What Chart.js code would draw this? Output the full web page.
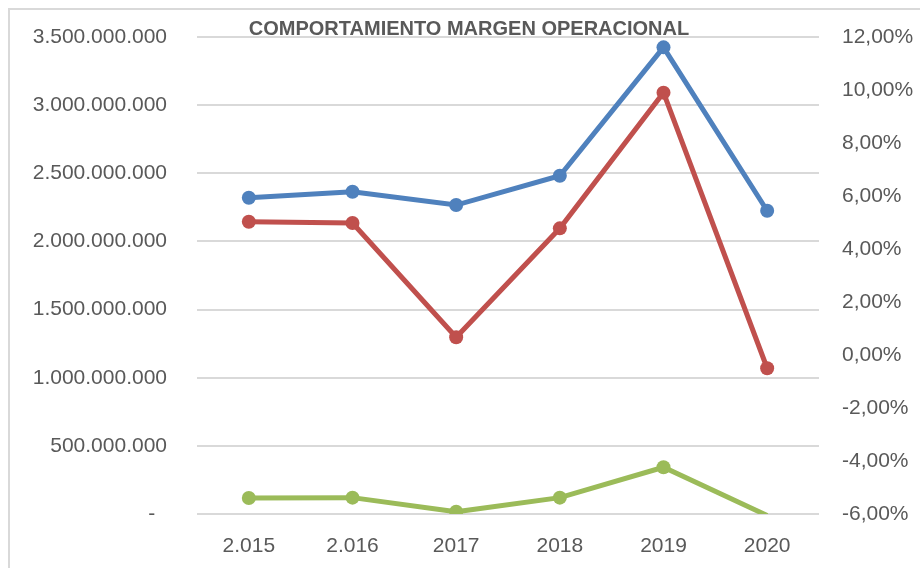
<!DOCTYPE html>
<html>
<head>
<meta charset="utf-8">
<script src="https://cdn.jsdelivr.net/npm/chart.js@4.4.1/dist/chart.umd.min.js"></script>
<style>
  body { margin: 0; background: #fff; overflow: hidden; }
  #wrap { position: relative; width: 920px; height: 568px; }
  #frame {
    position: absolute; left: 8px; top: 8px; width: 940px; height: 600px;
    border-left: 2px solid #d9d9d9; border-top: 2px solid #d9d9d9;
  }
  canvas { position: absolute; left: 0; top: 0; }
</style>
</head>
<body>
<div id="wrap">
  <div id="frame"></div>
  <canvas id="chartJS" width="920" height="568"></canvas>
</div>
<script>
// Data
const years = ['2.015', '2.016', '2017', '2018', '2019', '2020'];
const ingresos = [2321000000, 2365000000, 2267000000, 2482000000, 3424000000, 2225000000];
const utilidadOperacional = [117000000, 120000000, 16000000, 120000000, 343000000, -11000000];
const margenOperacional = [5.03, 4.98, 0.67, 4.78, 9.9, -0.5];

const textColor = '#595959';
const tickFont = { family: 'Liberation Sans', size: 21 };

const formatMiles = (v) => {
  if (v === 0) return '-  ';
  return String(v).replace(/\B(?=(\d{3})+(?!\d))/g, '.');
};
const formatPct = (v) => v.toFixed(2).replace('.', ',') + '%';

// title drawn on top of the plot, like the spreadsheet does
const titlePlugin = {
  id: 'chartTitle',
  afterDraw(chart) {
    const ctx = chart.ctx;
    ctx.save();
    ctx.font = 'bold 20px "Liberation Sans"';
    ctx.fillStyle = textColor;
    ctx.textAlign = 'center';
    ctx.textBaseline = 'alphabetic';
    ctx.fillText('COMPORTAMIENTO MARGEN OPERACIONAL', 469, 35);
    ctx.restore();
  },
};

const lineStyle = (color) => ({
  borderColor: color,
  backgroundColor: color,
  pointBackgroundColor: color,
  borderWidth: 5,
  pointBorderWidth: 0,
  pointRadius: (c) => (c.raw < 0 && c.dataset.yAxisID === 'y' ? 0 : 7),
  pointHoverRadius: 7,
  tension: 0,
  fill: false,
});

const chart = new Chart(document.getElementById('chartJS'), {
  type: 'line',
  data: {
    labels: years,
    datasets: [
      { label: 'Ingresos', data: ingresos, yAxisID: 'y', ...lineStyle('#4f81bd') },
      { label: 'Margen operacional', data: margenOperacional, yAxisID: 'y1', ...lineStyle('#c0504d') },
      { label: 'Utilidad operacional', data: utilidadOperacional, yAxisID: 'y', ...lineStyle('#9bbb59') },
    ],
  },
  options: {
    responsive: false,
    animation: false,
    events: [],
    layout: { padding: { top: 37, left: 0, right: 0, bottom: 0 } },
    plugins: {
      legend: { display: false },
      tooltip: { enabled: false },
      title: { display: false },
    },
    scales: {
      x: {
        offset: true,
        grid: { display: false, drawTicks: false },
        border: { display: false },
        ticks: { color: textColor, font: tickFont, padding: 20, maxRotation: 0 },
        afterFit(scale) { scale.height = 54; },
      },
      y: {
        position: 'left',
        min: 0,
        max: 3500000000,
        // invisible tick marks keep the labels away from the plot without
        // the tick padding pushing the plot top down
        grid: { color: '#d9d9d9', lineWidth: 2, drawTicks: true, tickLength: 30, tickColor: 'rgba(0,0,0,0)' },
        border: { display: false },
        ticks: { stepSize: 500000000, color: textColor, font: tickFont, padding: 0, callback: formatMiles },
        afterFit(scale) { scale.width = 197; },
      },
      y1: {
        position: 'right',
        min: -6,
        max: 12,
        grid: { display: false, drawTicks: false },
        border: { display: false },
        ticks: { stepSize: 2, color: textColor, font: tickFont, padding: 23, callback: formatPct },
        afterFit(scale) { scale.width = 101; },
      },
    },
  },
  plugins: [titlePlugin],
});
</script>
</body>
</html>
